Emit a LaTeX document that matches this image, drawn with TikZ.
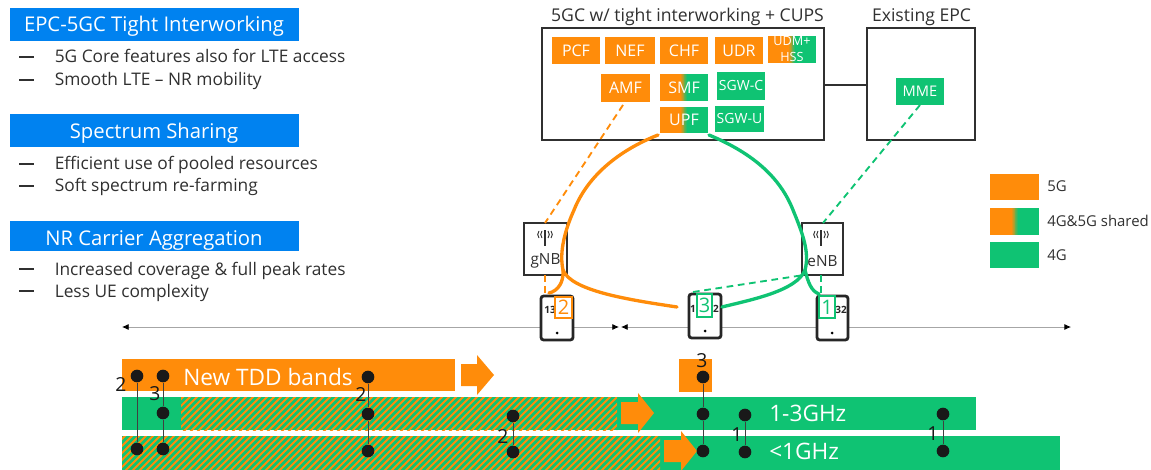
\documentclass[tikz,border=0pt]{standalone}
\usepackage{fontspec}
\setmainfont{Open Sans}
\usetikzlibrary{arrows.meta}
\definecolor{eorange}{HTML}{FF8C0A}
\definecolor{egreen}{HTML}{0FC373}
\definecolor{eblue}{HTML}{0082F0}
\definecolor{etext}{HTML}{303030}
\tikzset{
  bx/.style={inner sep=0pt,outer sep=0pt,align=center},
  org/.style={bx,fill=eorange,text=white,font=\fontsize{12}{12}\selectfont},
  grn/.style={bx,fill=egreen,text=white,font=\fontsize{12}{12}\selectfont},
  shr/.style={bx,text=white,font=\fontsize{12}{12}\selectfont},
  ttlbar/.style={bx,fill=eblue},
  ttl/.style={anchor=base,inner sep=0pt,text=white,font=\fontsize{15.2}{15}\selectfont},
  core/.style={bx,draw=etext,line width=1.1pt},
  ran/.style={bx,draw=etext,line width=1.1pt,fill=white},
  body/.style={anchor=base west,inner sep=0pt,text=etext,font=\fontsize{13}{13}\selectfont},
  legendt/.style={anchor=west,inner sep=0pt,text=etext,font=\fontsize{11.2}{12}\selectfont},
  head/.style={inner sep=0pt,text=etext,font=\fontsize{13.2}{14}\selectfont},
  ranl/.style={inner sep=0pt,text=etext,font=\fontsize{11.5}{12}\selectfont},
  band/.style={anchor=west,inner sep=0pt,text=white,font=\fontsize{17}{17}\selectfont},
  dot/.style={circle,fill=black!90,inner sep=0pt,minimum size=9.5pt},
  num/.style={inner sep=0pt,text=black!90,font=\fontsize{14.5}{15}\selectfont},
  phone/.style={bx,draw=black!85,line width=2.1pt,rounded corners=2pt,fill=white},
  sq/.style={bx,fill=white,line width=2pt,font=\fontsize{15}{15}\selectfont},
  tiny/.style={inner sep=0pt,text=black!85,font=\fontsize{7.5}{8}\selectfont\bfseries},
  link/.style={line width=2.5pt,line cap=round},
  dlink/.style={line width=1.4pt,dash pattern=on 5pt off 3.5pt},
  tie/.style={black!75,line width=0.6pt},
  axis/.style={black!35,line width=0.6pt},
  arrowshape/.style={fill=eorange},
}
% name, x1, y1, x2, y2, style, text
\newcommand{\pxbox}[7]{%
  \pgfmathsetmacro{\cx}{(#2+#4)/2}\pgfmathsetmacro{\cy}{(#3+#5)/2}%
  \pgfmathsetmacro{\bw}{(#4-#2)*0.75}\pgfmathsetmacro{\bh}{(#5-#3)*0.75}%
  \node[#6,minimum width=\bw pt,minimum height=\bh pt] (#1) at (\cx,\cy) {#7};}
% name, x1, y1, x2, y2, text : half orange, half green, soft seam of strips
\newcommand{\sharedbox}[6]{%
  \pgfmathsetmacro{\mx}{(#2+#4)/2}%
  \fill[eorange] (#2,#3) rectangle (\mx,#5);
  \fill[egreen] (\mx,#3) rectangle (#4,#5);
  \foreach \st/\pc in {-3/88,-2/75,-1/62,0/38,1/25,2/12}
    \fill[eorange!\pc!egreen] (\mx+\st,#3) rectangle (\mx+\st+1.2,#5);
  \pxbox{#1}{#2}{#3}{#4}{#5}{shr}{#6}}
% x1,y1,x2,y2 : hatched band
\newcommand{\hatched}[4]{%
  \fill[egreen] (#1,#2) rectangle (#3,#4);
  \begin{scope}
    \clip (#1,#2) rectangle (#3,#4);
    \foreach \k in {#1,\the\numexpr#1+7\relax,...,\the\numexpr#3+60\relax}
      \draw[eorange,line width=1.5pt] (\k-50,#4+5) -- (\k+10,#4-55);
  \end{scope}}
% tip x, centre y, shaft start, neck x, half shaft, half head
\newcommand{\fatarrow}[6]{%
  \fill[arrowshape] (#3,#2-#5) -- (#4,#2-#5) -- (#4,#2-#6) -- (#1,#2) -- (#4,#2+#6) -- (#4,#2+#5) -- (#3,#2+#5) -- cycle;}
\begin{document}
\begin{tikzpicture}[x=0.75pt,y=-0.75pt]
\useasboundingbox (0,0) rectangle (1151,470);
% left column
\pxbox{t1}{10}{8}{299}{41}{ttlbar}{}
\pxbox{t2}{10}{114}{299}{147}{ttlbar}{}
\pxbox{t3}{10}{221}{299}{251}{ttlbar}{}
\node[ttl] (t1l) at (154,32) {EPC-5GC Tight Interworking};
\node[ttl] (t2l) at (154,139) {Spectrum Sharing};
\node[ttl] (t3l) at (154,245.5) {NR Carrier Aggregation};
\foreach \yy/\by/\txt/\nm in {57/63/5G Core features also for LTE access/a,80/86/Smooth LTE -- NR mobility/b,164/170/Efficient use of pooled resources/c,186/192/Soft spectrum re-farming/d,269/275/Increased coverage \& full peak rates/e,291/297/Less UE complexity/f}{
  \node[body] (l\nm) at (54.5,\by) {\txt};
  \fill[etext] (19,\yy-0.6) rectangle (34,\yy+0.6);
}
% core boxes
\pxbox{core}{542}{28}{824}{140}{core}{}
\pxbox{epc}{867}{28}{975}{140}{core}{}
\draw[etext,line width=0.9pt] (core.east |- 0,85) -- (epc.west |- 0,85);
\node[head] (h1) at (687.5,17) {5GC w/ tight interworking + CUPS};
\node[head] (h2) at (921.5,17) {Existing EPC};
\pxbox{pcf}{552}{37}{600}{64}{org}{PCF}
\pxbox{nef}{605}{37}{655}{64}{org}{NEF}
\pxbox{chf}{660}{37}{708}{64}{org}{CHF}
\pxbox{udr}{715}{37}{763}{64}{org}{UDR}
\sharedbox{udm}{768}{36}{816}{63}{\fontsize{9.5}{10.5}\selectfont UDM+\\\fontsize{9.5}{10.5}\selectfont HSS}
\pxbox{amf}{601}{74}{650}{102}{org}{AMF}
\sharedbox{smf}{660}{74}{708}{101}{SMF}
\pxbox{sgwc}{717}{72}{765}{100}{grn}{\fontsize{10.5}{11}\selectfont SGW-C}
\sharedbox{upf}{660}{107}{708}{133}{UPF}
\pxbox{sgwu}{715}{106}{764}{132}{grn}{\fontsize{10.5}{11}\selectfont SGW-U}
\pxbox{mme}{896}{78}{944}{105}{grn}{\fontsize{11}{11}\selectfont MME}
% RAN
\pxbox{gnb}{524}{223}{567}{275}{ran}{}
\pxbox{enb}{802}{223}{843}{275}{ran}{}
\node[ranl] (gl) at (545.5,261) {gNB};
\node[ranl] (el) at (822.5,261) {eNB};
\foreach \ax in {545,821}{
  \draw[etext,line width=0.8pt] (\ax,230) -- (\ax,246);
  \draw[etext,line width=0.7pt] (\ax-3,231) to[bend right=40] (\ax-3,238);
  \draw[etext,line width=0.7pt] (\ax+3,231) to[bend left=40] (\ax+3,238);
  \draw[etext,line width=0.7pt] (\ax-6,231) to[bend right=40] (\ax-6,238);
  \draw[etext,line width=0.7pt] (\ax+6,231) to[bend left=40] (\ax+6,238);
}
% axis
\coordinate (axl) at (122,327);
\coordinate (axm1) at (619,327);
\coordinate (axm2) at (621,327);
\coordinate (axr) at (1071,327);
\draw[axis,{Latex[black,length=5pt,width=4.5pt]}-{Latex[black,length=5pt,width=4.5pt]}] (axl) -- (axm1);
\draw[axis,{Latex[black,length=5pt,width=4.5pt]}-{Latex[black,length=5pt,width=4.5pt]}] (axm2) -- (axr);
% phones
\pxbox{ph1}{541}{296}{573}{340}{phone}{}
\pxbox{ph3}{689}{294}{721}{338}{phone}{}
\pxbox{ph2}{817}{296}{848}{340}{phone}{}
\foreach \px/\py in {557/333,705/331,832/333} \fill[black] (\px,\py) circle (1.5);
\node[tiny] (n13) at (550,310) {13};
\node[tiny] (n31) at (693,309) {1};
\node[tiny] (n32) at (716,309) {2};
\node[tiny] (n21) at (841,310) {32};
% dashed links
\coordinate (gtop) at (545,223);
\coordinate (etop) at (823,223);
\coordinate (ph1t) at (545,295);
\coordinate (ph2t) at (821,295);
\coordinate (ph3t) at (693,292);
\coordinate (enbb) at (804,275);
\draw[dlink,eorange] (623,105) -- (gtop);
\draw[dlink,eorange] (gnb.south -| ph1t) -- (ph1t);
\draw[dlink,egreen] (mme.south) -- (etop);
\draw[dlink,egreen] (enb.south -| ph2t) -- (ph2t);
\draw[dlink,egreen] (ph3t) -- (enbb);
% solid links
\coordinate (uo) at (658,135);
\coordinate (ug) at (709,135);
\coordinate (om) at (574,210);
\coordinate (gm) at (793,210);
\coordinate (oj) at (563,270);
\coordinate (gj) at (805,270);
\draw[link,eorange] (uo) .. controls (620,150) and (588,175) .. (om)
  .. controls (565,230) and (559,252) .. (oj)
  .. controls (571,291) and (630,300) .. (677,307);
\draw[link,eorange] (oj) .. controls (564,282) and (558,291) .. (549,293);
\draw[link,egreen] (ug) .. controls (745,150) and (778,172) .. (gm)
  .. controls (802,232) and (810,252) .. (gj)
  .. controls (797,291) and (750,300) .. (722,307);
\draw[link,egreen] (gj) .. controls (808,282) and (811,291) .. (819,294);
% squares on phones
\pxbox{s2}{555}{297}{572}{318}{sq,draw=eorange,text=eorange}{2}
\pxbox{s3}{697}{294}{712}{317}{sq,draw=egreen,text=egreen}{3}
\pxbox{s1}{819}{296}{835}{318}{sq,draw=egreen,text=egreen}{1}
% legend
\pxbox{lg1}{990}{174}{1039}{200}{org}{}
\sharedbox{lg2}{990}{208}{1039}{235}{}
\pxbox{lg3}{990}{242}{1039}{268}{grn}{}
\node[legendt] (lt1) at (1047,186) {5G};
\node[legendt] (lt2) at (1047,221) {4G\&5G shared};
\node[legendt] (lt3) at (1047,255) {4G};
% bands
\pxbox{tdd}{122}{359}{455}{391}{org}{}
\node[band] (tddl) at (183,377) {New TDD bands};
\fatarrow{494}{375}{461}{477}{11}{20}
\pxbox{sq5}{679}{359}{712}{392}{org}{}
\pxbox{b13}{122}{397}{976}{430}{grn}{}
\hatched{181}{397}{617}{430}
\node[band] (b13l) at (769,413) {1-3GHz};
\pxbox{b1}{122}{436}{1060}{470}{grn}{}
\hatched{122}{436}{660}{470}
\node[band] (b1l) at (769,451) {<1GHz};
\fatarrow{654}{413}{621}{638}{11}{20}
\fatarrow{697}{451}{664}{681}{11}{20}
% dots
\foreach \nm/\dx/\dy in {a1/137/376,a2/137/449,b1/163/376,b2/163/413,b3/163/449,c1/368/377,c2/368/414,c3/368/451,d1/513/416,d2/513/452,e1/703/377,e2/703/414,e3/703/451,f1/745/415,f2/745/452,g1/943/414,g2/943/451}
  \node[dot] (\nm) at (\dx,\dy) {};
\draw[tie] (a1) -- (a2);
\draw[tie] (b1) -- (b2);
\draw[tie] (b2) -- (b3);
\draw[tie] (c1) -- (c2);
\draw[tie] (c2) -- (c3);
\draw[tie] (d1) -- (d2);
\draw[tie] (e1) -- (e2);
\draw[tie] (e2) -- (e3);
\draw[tie] (f1) -- (f2);
\draw[tie] (g1) -- (g2);
\node[num] (m1) at (121,384) {2};
\node[num] (m2) at (155,394) {3};
\node[num] (m3) at (361,394) {2};
\node[num] (m4) at (503,436) {2};
\node[num] (m5) at (702,361) {3};
\node[num] (m6) at (737,435) {1};
\node[num] (m7) at (933,434) {1};
\end{tikzpicture}
\end{document}
